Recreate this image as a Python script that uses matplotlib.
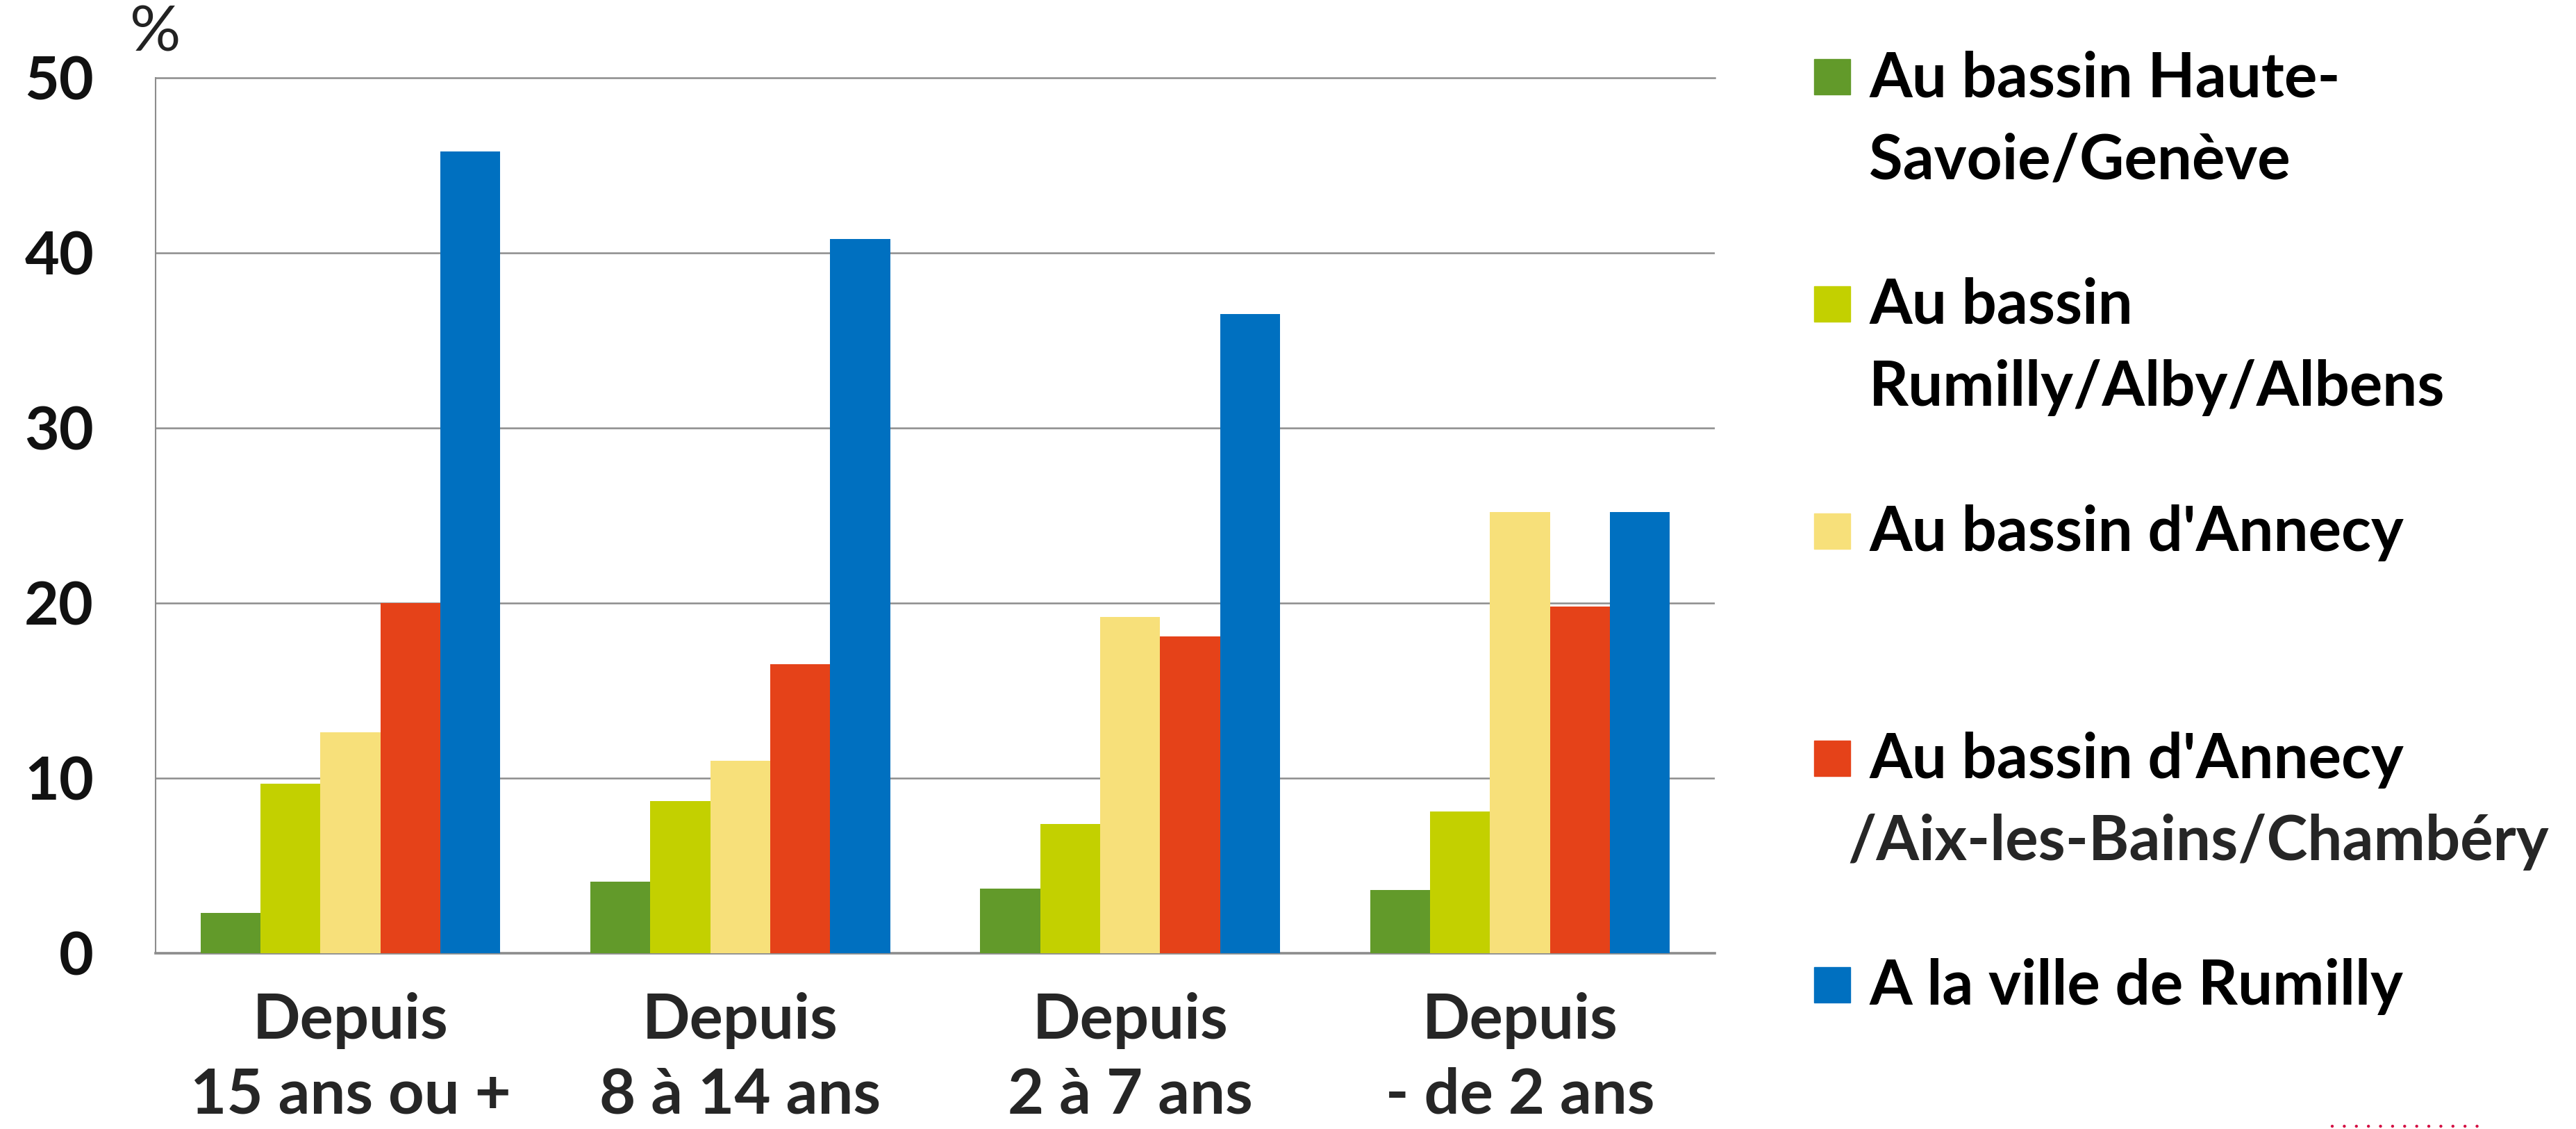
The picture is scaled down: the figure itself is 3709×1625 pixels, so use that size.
import matplotlib.pyplot as plt
import numpy as np
from matplotlib.patches import Rectangle
from matplotlib.lines import Line2D

# données (%)
categories = ["Depuis\n15 ans ou +", "Depuis\n8 à 14 ans", "Depuis\n2 à 7 ans", "Depuis\n- de 2 ans"]
haute_savoie = [2.3, 4.1, 3.7, 3.6]
rumilly_alby = [9.7, 8.7, 7.4, 8.1]
annecy = [12.6, 11.0, 19.2, 25.2]
annecy_chambery = [20.0, 16.5, 18.1, 19.8]
ville_rumilly = [45.8, 40.8, 36.5, 25.2]

series = [haute_savoie, rumilly_alby, annecy, annecy_chambery, ville_rumilly]
colors = ["#629A2A", "#C3D000", "#F7E07A", "#E54219", "#0070C0"]
legend_labels = [
    ["Au bassin Haute-", "Savoie/Genève"],
    ["Au bassin", "Rumilly/Alby/Albens"],
    ["Au bassin d'Annecy"],
    ["Au bassin d'Annecy", "/Aix-les-Bains/Chambéry"],
    ["A la ville de Rumilly"],
]
yticks = [0, 10, 20, 30, 40, 50]

W, H = 3709, 1625
plt.rcParams["font.family"] = ["Lato", "DejaVu Sans"]

fig = plt.figure(figsize=(W / 100, H / 100), dpi=100)
ax = fig.add_axes([224 / W, 1 - 1372 / H, (2469 - 224) / W, (1372 - 112) / H])

x = np.arange(len(categories))
width = 0.1537
for i, (vals, col) in enumerate(zip(series, colors)):
    ax.bar(x + (i - 2) * width, vals, width, color=col, zorder=3)

ax.set_xlim(-0.5, len(categories) - 0.5)
ax.set_ylim(0, 50)
ax.set_yticks(yticks)
ax.set_yticklabels([str(t) for t in yticks], fontsize=62, fontweight="bold", color="#111111")
ax.set_xticks(x)
ax.set_xticklabels(categories, fontsize=65, fontweight="bold", color="#262626", linespacing=1.38)
ax.tick_params(axis="y", length=0, pad=64)
ax.tick_params(axis="x", length=0, pad=40)

grid_col = "#8C8C8C"
for t in yticks[1:-1]:
    ax.axhline(t, color=grid_col, lw=1.8, zorder=1)
ax.spines["right"].set_visible(False)
ax.spines["top"].set_color(grid_col)
ax.spines["top"].set_linewidth(1.8)
ax.spines["left"].set_color(grid_col)
ax.spines["left"].set_linewidth(1.5)
ax.spines["bottom"].set_color(grid_col)
ax.spines["bottom"].set_linewidth(2.6)

fig.text(224 / W, 1 - 48 / H, "%", fontsize=66, ha="center", va="center", color="#222222")

# légende faite à la main
centers = [110, 437, 764, 1091, 1417]
for lines, col, cy in zip(legend_labels, colors, centers):
    fig.patches.append(Rectangle((2612 / W, 1 - (cy + 26) / H), 52 / W, 51 / H,
                                 color=col, transform=fig.transFigure, figure=fig))
    fig.text(2691 / W, 1 - (cy + 29) / H, lines[0], fontsize=64, fontweight="bold",
             color="black", va="baseline", ha="left")
    if len(lines) > 1:
        x0 = 2660 if lines[1].startswith("/Aix") else 2691
        c2 = "#262626" if lines[1].startswith("/Aix") else "black"
        fig.text(x0 / W, 1 - (cy + 29 + 118) / H, lines[1], fontsize=64, fontweight="bold",
                 color=c2, va="baseline", ha="left")

# petite ligne pointillée en bas à droite
fig.lines.append(Line2D([3358 / W, 3579 / W], [4 / H, 4 / H], transform=fig.transFigure,
                        color="#D41245", lw=3.2, linestyle=(0, (0.01, 3.9)),
                        dash_capstyle="round"))

fig.savefig("out.png", dpi=100)
